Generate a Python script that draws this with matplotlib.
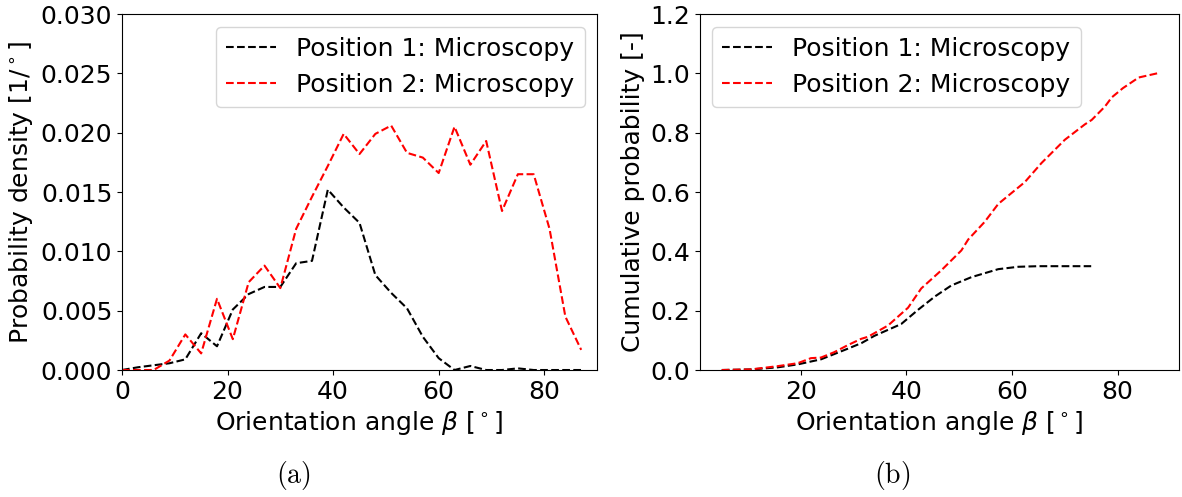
import numpy as np
import matplotlib
matplotlib.use('Agg')
import matplotlib.pyplot as plt

plt.rc('font', size=18)
plt.rc('axes', labelsize=18)
plt.rc('xtick', labelsize=18)
plt.rc('ytick', labelsize=18)
plt.rc('legend', fontsize=18)

# (a) probability density, 3 degree bins
angle_bins = np.arange(0, 90, 3)
density_pos1 = [0.0, 0.00023, 0.0004, 0.00057, 0.0009, 0.0031, 0.002, 0.0051,
                0.0064, 0.007, 0.007, 0.009, 0.0092, 0.0152, 0.0137, 0.0124,
                0.008, 0.0065, 0.0052, 0.0028, 0.001, 0.0, 0.00034, 0.0,
                0.0, 0.00014, 0.0, 0.0, 0.0, 0.0]
density_pos2 = [0.0, 0.0, 0.0, 0.0008, 0.003, 0.0014, 0.006, 0.0026,
                0.0074, 0.0088, 0.0069, 0.0119, 0.0146, 0.0172, 0.0199, 0.0182,
                0.0199, 0.0206, 0.0183, 0.0179, 0.0166, 0.0205, 0.0173, 0.0193,
                0.0134, 0.0165, 0.0165, 0.0119, 0.0045, 0.0017]

# (b) cumulative probability
cum_angle_pos1 = [5.0, 10.5, 15.6, 19.4, 23.8, 28.9, 31.5, 33.9, 39.0, 42.2,
                  45.4, 48.5, 52.3, 57.4, 61.2, 65.0, 70.0, 75.0]
cum_pos1 = [0.0, 0.002, 0.009, 0.019, 0.036, 0.072, 0.091, 0.115, 0.155, 0.203,
            0.248, 0.285, 0.313, 0.340, 0.348, 0.350, 0.350, 0.350]
cum_angle_pos2 = [5.0, 10.5, 15.6, 19.4, 21.9, 23.8, 26.3, 28.9, 31.4, 32.7,
                  36.5, 40.3, 42.8, 46.6, 50.4, 51.7, 54.8, 57.4, 60.0, 62.4,
                  65.6, 70.0, 73.8, 75.1, 77.6, 78.9, 81.0, 84.0, 87.5]
cum_pos2 = [0.0, 0.002, 0.013, 0.023, 0.040, 0.042, 0.060, 0.084, 0.105, 0.112,
            0.150, 0.210, 0.275, 0.336, 0.403, 0.440, 0.499, 0.560, 0.598, 0.633,
            0.698, 0.776, 0.828, 0.843, 0.888, 0.919, 0.950, 0.986, 1.0]

labels = ['Position 1: Microscopy', 'Position 2: Microscopy']

fig = plt.figure(figsize=(11.82, 4.97), dpi=100)
ax1 = fig.add_axes([0.1032, 0.2555, 0.4019, 0.7163])
ax2 = fig.add_axes([0.5922, 0.2555, 0.4052, 0.7163])

ax1.plot(angle_bins, density_pos1, 'k--', label=labels[0])
ax1.plot(angle_bins, density_pos2, 'r--', label=labels[1])
ax1.set_xlim(0, 90)
ax1.set_ylim(0, 0.03)
ax1.set_xticks([0, 20, 40, 60, 80])
ax1.set_xlabel(r'Orientation angle $\beta$ [$^\circ$]')
ax1.set_ylabel(r'Probability density [1/$^\circ$]')
ax1.legend(loc='upper right')

ax2.plot(cum_angle_pos1, cum_pos1, 'k--', label=labels[0])
ax2.plot(cum_angle_pos2, cum_pos2, 'r--', label=labels[1])
ax2.set_ylim(0, 1.2)
ax2.set_xticks([20, 40, 60, 80])
ax2.set_xlabel(r'Orientation angle $\beta$ [$^\circ$]')
ax2.set_ylabel('Cumulative probability [-]')
ax2.legend(loc='upper left')

fig.text(0.248, 0.044, r'$\mathrm{(a)}$', ha='center', va='center',
         fontsize=20, math_fontfamily='cm')
fig.text(0.755, 0.044, r'$\mathrm{(b)}$', ha='center', va='center',
         fontsize=20, math_fontfamily='cm')

fig.savefig('out.png', dpi=100)
